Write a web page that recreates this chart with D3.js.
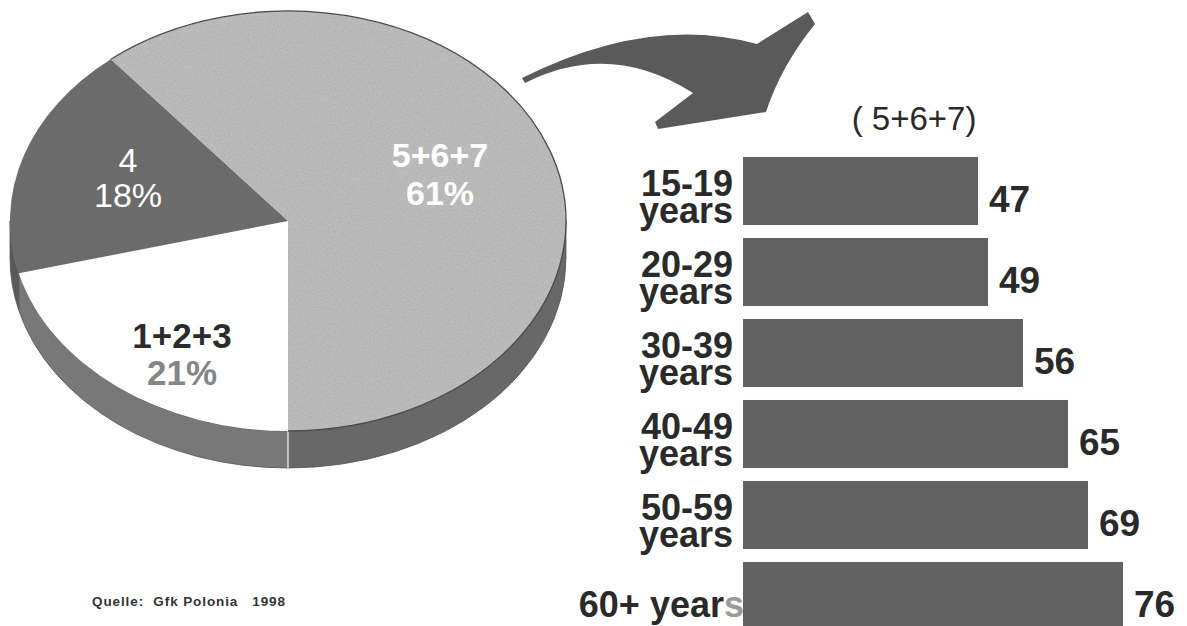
<!DOCTYPE html>
<html>
<head>
<meta charset="utf-8">
<script src="https://cdn.jsdelivr.net/npm/d3@7/dist/d3.min.js"></script>
<style>
  html, body { margin: 0; padding: 0; background: #ffffff; }
  svg { display: block; font-family: "Liberation Sans", Arial, Helvetica, sans-serif; }
</style>
</head>
<body>
<svg id="chart" width="1187" height="626"></svg>
<script>
// Pie: share of respondents by group
const pieCategories = ["5+6+7", "1+2+3", "4"];
const pieValues = [61, 21, 18];

// Bars: share of group 5+6+7 by age
const barTitle = "( 5+6+7)";
const ageLabels = ["15-19|years", "20-29|years", "30-39|years", "40-49|years", "50-59|years", "60+ years"];
const ageValues = [47, 49, 56, 65, 69, 76];

const sourceNote = "Quelle:  Gfk Polonia   1998";

const svg = d3.select("#chart");
const defs = svg.append("defs");

// fine grain for the light slice
const grain = defs.append("filter").attr("id", "grain")
  .attr("x", 0).attr("y", 0).attr("width", 1).attr("height", 1);
grain.append("feTurbulence").attr("type", "fractalNoise")
  .attr("baseFrequency", 0.85).attr("numOctaves", 2).attr("seed", 4).attr("result", "noise");
grain.append("feColorMatrix").attr("in", "noise").attr("type", "matrix")
  .attr("values", "0.33 0.33 0.33 0 0  0.33 0.33 0.33 0 0  0.33 0.33 0.33 0 0  0 0 0 0 1")
  .attr("result", "gray");
const ct = grain.append("feComponentTransfer").attr("in", "gray").attr("result", "soft");
["feFuncR", "feFuncG", "feFuncB"].forEach(f =>
  ct.append(f).attr("type", "linear").attr("slope", 0.6).attr("intercept", 0.66));
grain.append("feBlend").attr("in", "SourceGraphic").attr("in2", "soft").attr("mode", "multiply").attr("result", "mix");
grain.append("feComposite").attr("in", "mix").attr("in2", "SourceGraphic").attr("operator", "in");

// ---------- tilted pie ----------
const cx = 288, cy = 221, rx = 278, ry = 210, depth = 37;
const topFill = { "5+6+7": "#bdbdbd", "1+2+3": "#ffffff", "4": "#6b6b6b" };
const sideFill = { "5+6+7": "#686868", "1+2+3": "#787878", "4": "#5a5a5a" };

const start = Math.PI - (pieValues[0] / 100) * 2 * Math.PI;
const pie = d3.pie().sort(null).startAngle(start).endAngle(start + 2 * Math.PI);
const arcs = pie(pieValues).map((d, i) => ({ ...d, key: pieCategories[i] }));

// point on the tilted rim for a pie angle (0 = twelve o'clock, clockwise)
const pt = (a, dy = 0) => [cx + rx * Math.sin(a), cy - ry * Math.cos(a) + dy];

const gPie = svg.append("g");

// side wall (front half only: angles between pi/2 and 3pi/2)
function sidePath(a0, a1) {
  const s = pt(a0), e = pt(a1), eb = pt(a1, depth), sb = pt(a0, depth);
  const large = (a1 - a0) > Math.PI ? 1 : 0;
  return `M${s}A${rx},${ry} 0 ${large} 1 ${e}L${eb}A${rx},${ry} 0 ${large} 0 ${sb}Z`;
}
arcs.forEach(d => {
  const a0 = d.startAngle, a1 = d.endAngle;
  [0, 2 * Math.PI, -2 * Math.PI].forEach(k => {
    const s = Math.max(a0 + k, Math.PI / 2), e = Math.min(a1 + k, 3 * Math.PI / 2);
    if (e > s + 1e-6) {
      gPie.append("path").attr("d", sidePath(s, e))
        .attr("fill", sideFill[d.key]).attr("stroke", "#555").attr("stroke-width", 0.8);
    }
  });
});
// seam on the wall at six o'clock
const seamTop = pt(Math.PI), seamBot = pt(Math.PI, depth);
gPie.append("line").attr("x1", seamTop[0]).attr("y1", seamTop[1]).attr("x2", seamBot[0]).attr("y2", seamBot[1])
  .attr("stroke", "#ffffff").attr("stroke-width", 1.2);

// top faces
function topPath(a0, a1) {
  const s = pt(a0), e = pt(a1);
  const large = (a1 - a0) > Math.PI ? 1 : 0;
  return `M${cx},${cy}L${s}A${rx},${ry} 0 ${large} 1 ${e}Z`;
}
gPie.selectAll("path.top").data(arcs).join("path")
  .attr("class", "top")
  .attr("d", d => topPath(d.startAngle, d.endAngle))
  .attr("fill", d => topFill[d.key])
  .attr("filter", d => d.key === "5+6+7" ? "url(#grain)" : null);
// outline of the light slice rim
const lite = arcs[0];
gPie.append("path")
  .attr("d", (() => { const s = pt(lite.startAngle), e = pt(lite.endAngle);
    return `M${s}A${rx},${ry} 0 1 1 ${e}`; })())
  .attr("fill", "none").attr("stroke", "#4a4a4a").attr("stroke-width", 1.3);

// slice labels
const pieLabelLayout = {
  "5+6+7": { x: 440, y1: 167, y2: 205, size: 34, weight: "bold", c1: "#ffffff", c2: "#ffffff" },
  "4":     { x: 128, y1: 172, y2: 207, size: 34, weight: "normal", c1: "#ffffff", c2: "#ffffff" },
  "1+2+3": { x: 182, y1: 348, y2: 385, size: 35, weight: "bold", c1: "#2b2b2b", c2: "#858585" }
};
arcs.forEach(d => {
  const L = pieLabelLayout[d.key];
  const t = gPie.append("text").attr("text-anchor", "middle")
    .attr("font-size", L.size).attr("font-weight", L.weight);
  t.append("tspan").attr("x", L.x).attr("y", L.y1).attr("fill", L.c1).text(d.key);
  t.append("tspan").attr("x", L.x).attr("y", L.y2).attr("fill", L.c2).text(d.data + "%");
});

// ---------- curved arrow ----------
const arrow = d3.path();
arrow.moveTo(522, 78);
arrow.quadraticCurveTo(650, 14, 757, 44);
arrow.lineTo(808, 12);
arrow.lineTo(815, 24);
arrow.quadraticCurveTo(781, 66, 766, 112);
arrow.lineTo(658, 129);
arrow.lineTo(655, 122);
arrow.lineTo(693, 93);
arrow.quadraticCurveTo(610, 40, 525, 83);
arrow.closePath();
svg.append("path").attr("d", arrow.toString()).attr("fill", "#5a5a5a");

// ---------- bar chart ----------
const x = d3.scaleLinear().domain([0, 100]).range([743, 1243]);
const y = d3.scaleBand().domain(ageLabels).range([157, 643 - 13]).paddingInner(0.16).paddingOuter(0);

const gBar = svg.append("g");
gBar.append("text").attr("x", 914).attr("y", 130).attr("text-anchor", "middle")
  .attr("font-size", 33).attr("fill", "#2a2a2a").text(barTitle);

gBar.selectAll("rect.bar").data(ageValues).join("rect")
  .attr("class", "bar")
  .attr("x", x(0))
  .attr("y", (d, i) => y(ageLabels[i]))
  .attr("width", d => x(d) - x(0))
  .attr("height", y.bandwidth())
  .attr("fill", "#626262");

gBar.selectAll("text.val").data(ageValues).join("text")
  .attr("class", "val")
  .attr("x", d => x(d) + 11)
  .attr("y", (d, i) => y(ageLabels[i]) + y.bandwidth() / 2 + 21)
  .attr("font-size", 37).attr("font-weight", "bold").attr("fill", "#2a2a2a")
  .text(d => d);

ageLabels.forEach((lab, i) => {
  const mid = y(lab) + y.bandwidth() / 2;
  const parts = lab.split("|");
  if (parts.length === 2) {
    // two stacked lines, set tight as separate texts
    gBar.append("text").attr("text-anchor", "end")
      .attr("font-size", 36).attr("font-weight", "bold").attr("fill", "#2a2a2a")
      .attr("x", 733).attr("y", mid + 5).text(parts[0]);
    gBar.append("text").attr("text-anchor", "end")
      .attr("font-size", 36).attr("font-weight", "bold").attr("fill", "#2a2a2a")
      .attr("x", 733).attr("y", mid + 32).text(parts[1]);
  } else {
    const s = parts[0];
    const t = gBar.append("text").attr("text-anchor", "end")
      .attr("font-size", 36).attr("font-weight", "bold").attr("fill", "#2a2a2a")
      .attr("x", 744).attr("y", mid + 21);
    t.append("tspan").text(s.slice(0, -1));
    t.append("tspan").attr("fill", "#9a9a9a").text(s.slice(-1));
  }
});

// source note
svg.append("text").attr("x", 92).attr("y", 606)
  .attr("font-size", 13.5).attr("font-weight", "bold").attr("fill", "#333333")
  .attr("letter-spacing", 0.9)
  .attr("xml:space", "preserve").style("white-space", "pre")
  .text(sourceNote);
</script>
</body>
</html>
